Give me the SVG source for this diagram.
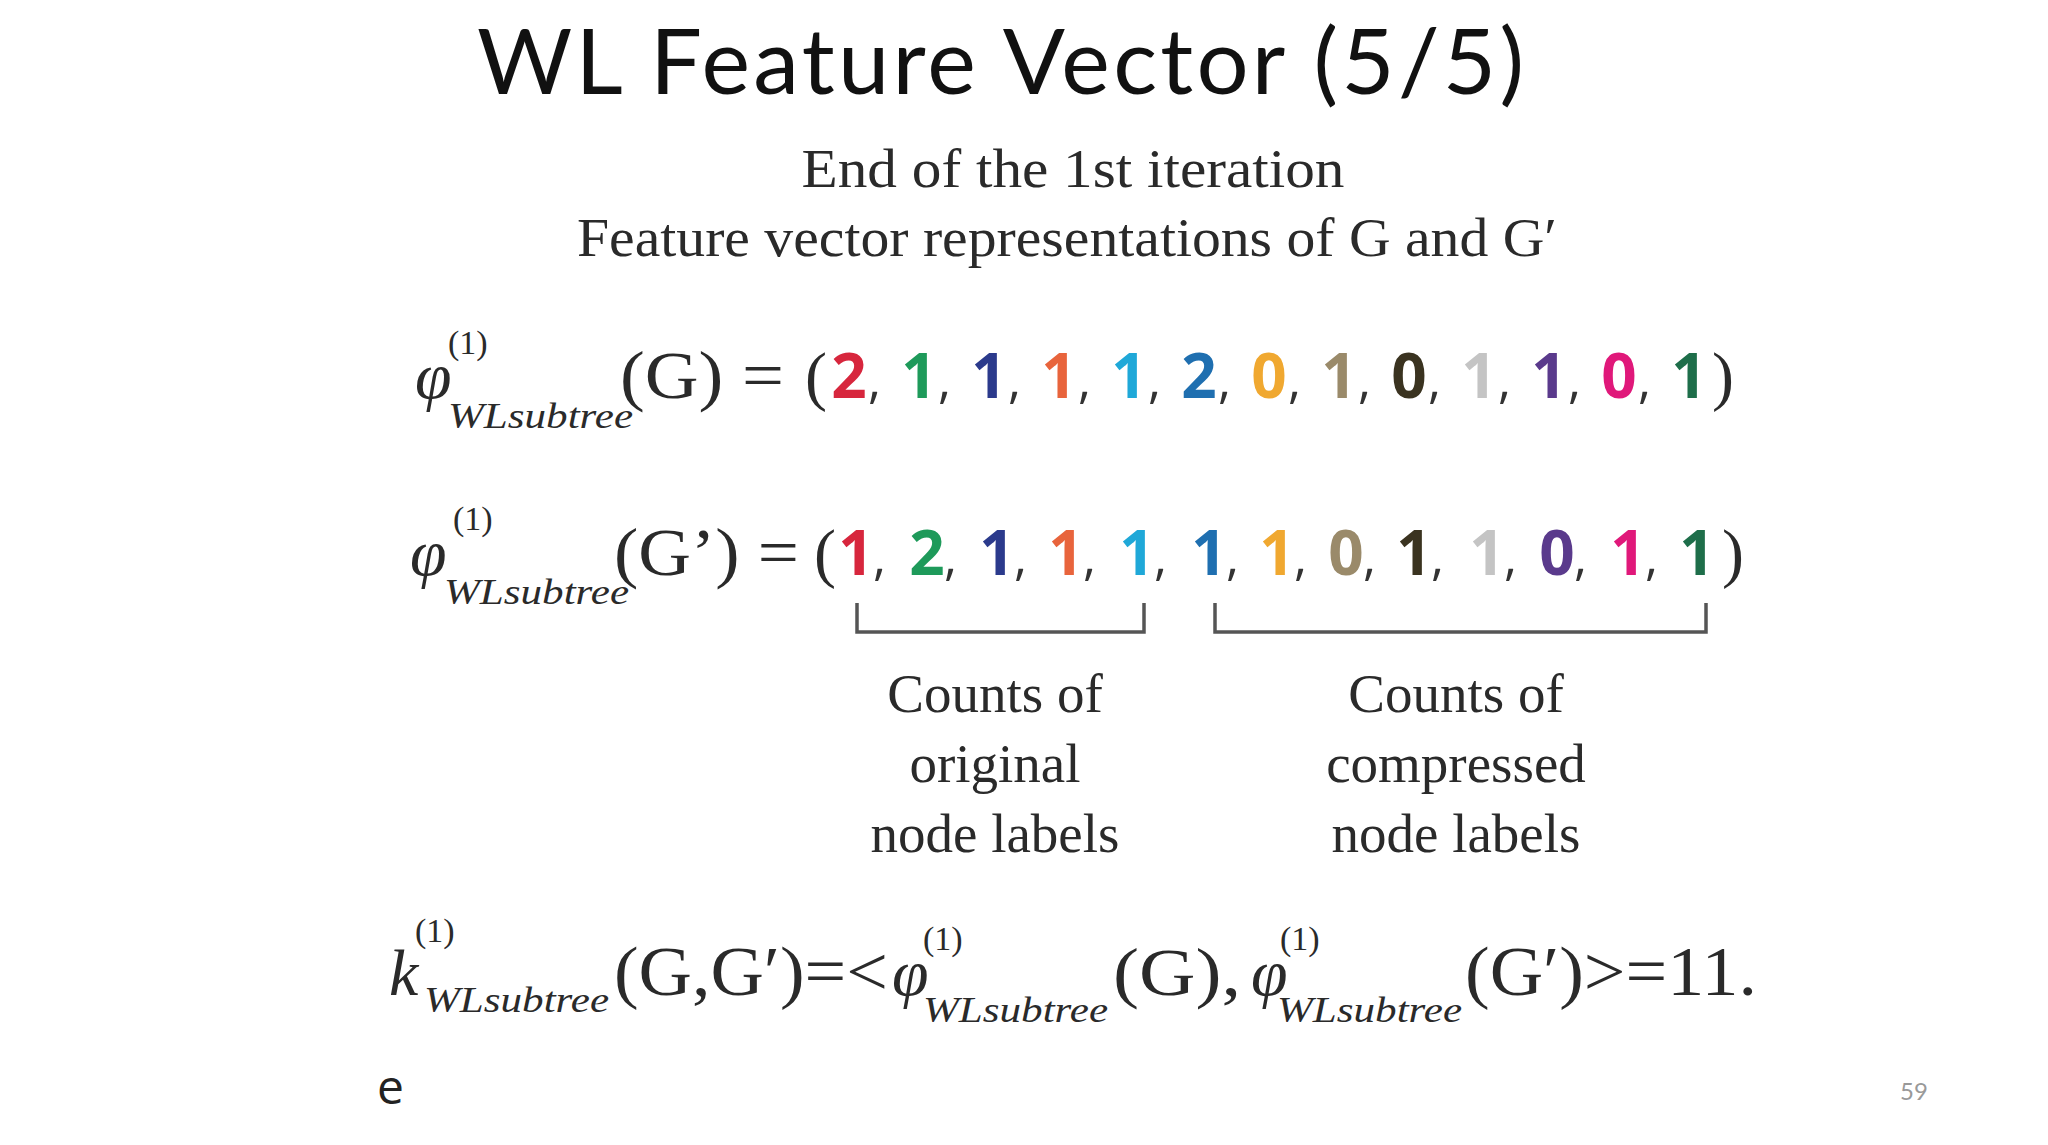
<svg xmlns="http://www.w3.org/2000/svg" width="2048" height="1145" viewBox="0 0 2048 1145">
<style>
.t{font-family:"Lato","Open Sans",sans-serif;fill:#111}
.s{font-family:"Liberation Serif",serif;fill:#2a2a2a}
.i{font-style:italic}
.d{font-family:"Open Sans","Liberation Sans",sans-serif;font-weight:bold;font-size:62px;text-anchor:middle}
.c{font-family:"Open Sans",sans-serif;font-size:50px;fill:#333}
.br{fill:none;stroke:#555;stroke-width:3.5}
</style>
<rect width="2048" height="1145" fill="#fff"/>
<text class="t" x="477" y="94" font-size="92" textLength="1047">WL Feature Vector (5/5)</text>
<g class="s" font-size="54" text-anchor="middle">
<text x="1073" y="187" textLength="543" lengthAdjust="spacingAndGlyphs">End of  the 1st iteration</text>
<text x="1067" y="256" textLength="980" lengthAdjust="spacingAndGlyphs">Feature vector representations of G and G′</text>
</g>
<g id="row1">
<text class="s i" x="415" y="398" font-size="66">φ</text>
<text class="s" x="448" y="354" font-size="34">(1)</text>
<text class="s i" x="448" y="428" font-size="36" textLength="185" lengthAdjust="spacingAndGlyphs">WLsubtree</text>
<text class="s" x="620" y="398" font-size="68" textLength="164" lengthAdjust="spacingAndGlyphs">(G) =</text>
<text class="s" x="805" y="398" font-size="66">(</text>
<g class="d">
<text x="849" y="398" fill="#d7263d">2</text><text x="919" y="398" fill="#1e9a5a">1</text><text x="989" y="398" fill="#2b3a8c">1</text><text x="1059" y="398" fill="#e8643c">1</text><text x="1129" y="398" fill="#1fa8d8">1</text><text x="1199" y="398" fill="#1f6fb0">2</text><text x="1269" y="398" fill="#f0a830">0</text><text x="1339" y="398" fill="#9a8a6a">1</text><text x="1409" y="398" fill="#3a3320">0</text><text x="1479" y="398" fill="#c4c4c4">1</text><text x="1549" y="398" fill="#5a3a8c">1</text><text x="1619" y="398" fill="#e0187a">0</text><text x="1689" y="398" fill="#1e6e4a">1</text>
</g>
<g class="c"><text x="868" y="398">,</text><text x="938" y="398">,</text><text x="1008" y="398">,</text><text x="1078" y="398">,</text><text x="1148" y="398">,</text><text x="1218" y="398">,</text><text x="1288" y="398">,</text><text x="1358" y="398">,</text><text x="1428" y="398">,</text><text x="1498" y="398">,</text><text x="1568" y="398">,</text><text x="1638" y="398">,</text></g>
<text class="s" x="1712" y="398" font-size="66">)</text>
</g>
<g id="row2">
<text class="s i" x="410" y="575" font-size="66">φ</text>
<text class="s" x="453" y="530" font-size="34">(1)</text>
<text class="s i" x="444" y="604" font-size="36" textLength="185" lengthAdjust="spacingAndGlyphs">WLsubtree</text>
<text class="s" x="614" y="575" font-size="68" textLength="185" lengthAdjust="spacingAndGlyphs">(G’) =</text>
<text class="s" x="814" y="575" font-size="66">(</text>
<g class="d">
<text x="856" y="575" fill="#d7263d">1</text><text x="927" y="575" fill="#1e9a5a">2</text><text x="997" y="575" fill="#2b3a8c">1</text><text x="1066" y="575" fill="#e8643c">1</text><text x="1137" y="575" fill="#1fa8d8">1</text><text x="1209" y="575" fill="#1f6fb0">1</text><text x="1277" y="575" fill="#f0a830">1</text><text x="1346" y="575" fill="#9a8a6a">0</text><text x="1414" y="575" fill="#3a3320">1</text><text x="1487" y="575" fill="#c4c4c4">1</text><text x="1557" y="575" fill="#5a3a8c">0</text><text x="1628" y="575" fill="#e0187a">1</text><text x="1697" y="575" fill="#1e6e4a">1</text>
</g>
<g class="c"><text x="873" y="575">,</text><text x="944" y="575">,</text><text x="1014" y="575">,</text><text x="1083" y="575">,</text><text x="1154" y="575">,</text><text x="1226" y="575">,</text><text x="1294" y="575">,</text><text x="1363" y="575">,</text><text x="1431" y="575">,</text><text x="1504" y="575">,</text><text x="1574" y="575">,</text><text x="1645" y="575">,</text></g>
<text class="s" x="1722" y="575" font-size="66">)</text>
</g>
<g id="connectors">
<path class="br" d="M857 603V632H1144V603"/>
<path class="br" d="M1215 603V632H1706V603"/>
</g>
<g id="label-original" class="s" font-size="55" text-anchor="middle">
<text x="995" y="712">Counts of</text><text x="995" y="782">original</text><text x="995" y="852">node labels</text>
</g>
<g id="label-compressed" class="s" font-size="55" text-anchor="middle">
<text x="1456" y="712">Counts of</text><text x="1456" y="782">compressed</text><text x="1456" y="852">node labels</text>
</g>
<g id="kernel" class="s">
<text class="i" x="389" y="995" font-size="66">k</text>
<text x="415" y="942" font-size="34">(1)</text>
<text class="i" x="424" y="1012" font-size="36" textLength="185" lengthAdjust="spacingAndGlyphs">WLsubtree</text>
<text x="614" y="995" font-size="70" textLength="274" lengthAdjust="spacingAndGlyphs">(G,G′)=&lt;</text>
<text class="i" x="892" y="995" font-size="66">φ</text>
<text x="923" y="950" font-size="34">(1)</text>
<text class="i" x="923" y="1022" font-size="36" textLength="185" lengthAdjust="spacingAndGlyphs">WLsubtree</text>
<text x="1113" y="995" font-size="68" textLength="128" lengthAdjust="spacingAndGlyphs">(G),</text>
<text class="i" x="1251" y="995" font-size="66">φ</text>
<text x="1280" y="950" font-size="34">(1)</text>
<text class="i" x="1277" y="1022" font-size="36" textLength="185" lengthAdjust="spacingAndGlyphs">WLsubtree</text>
<text x="1465" y="995" font-size="70" textLength="292" lengthAdjust="spacingAndGlyphs">(G′)&gt;=11.</text>
</g>
<text x="377" y="1104" font-family="Open Sans,sans-serif" font-size="48" fill="#222">e</text>
<text x="1900" y="1100" font-family="Lato,sans-serif" font-size="24" fill="#999">59</text>
</svg>
